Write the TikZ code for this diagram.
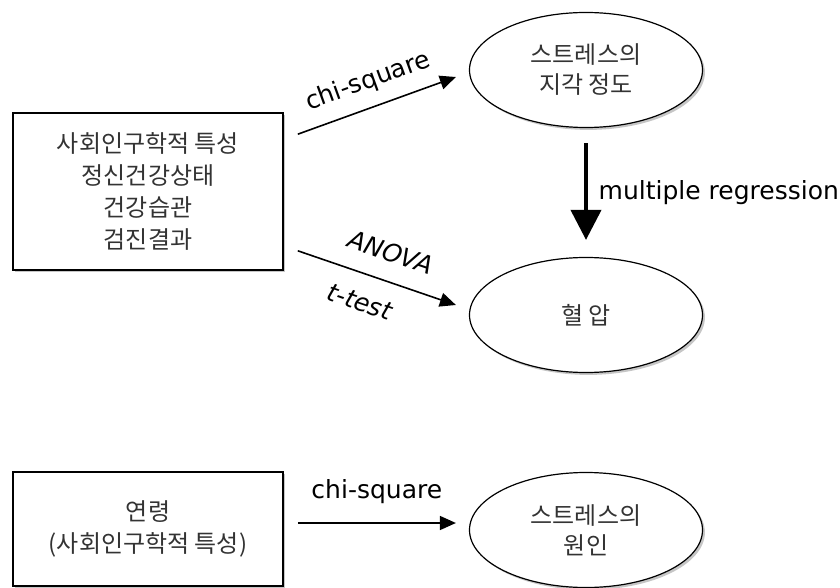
\documentclass[tikz,border=0pt]{standalone}
\usepackage{fontspec}
\setmainfont{DejaVu Sans}
\newfontfamily\kr{Noto Sans CJK KR}
\usepackage{tikz}
\usetikzlibrary{shapes}
\usetikzlibrary{arrows.meta,calc,shadows}
\tikzstyle{sbox}=[draw, line width=0.8pt, fill=white, drop shadow={shadow xshift=1.2pt, shadow yshift=-1.2pt, opacity=0.45}, minimum width=135pt, align=center, font=\kr\fontsize{12}{16}\selectfont, text=black!80]
\tikzstyle{sell}=[draw, ellipse, line width=0.6pt, fill=white, drop shadow={shadow xshift=1.2pt, shadow yshift=-1.2pt, opacity=0.45}, minimum width=116.5pt, minimum height=57.5pt, inner sep=0pt, align=center, font=\kr\fontsize{12}{15}\selectfont, text=black!80]
\tikzstyle{arr}=[line width=0.8pt, -{Triangle[length=8pt,width=7pt]}]
\tikzstyle{bigarr}=[line width=2pt, -{Triangle[length=15pt,width=15pt]}]
\tikzstyle{lbl}=[font=\fontsize{12.5}{15}\selectfont]
\tikzstyle{itlbl}=[font=\fontsize{12.5}{15}\selectfont\itshape, sloped]

\begin{document}
\begin{tikzpicture}[x=0.5pt,y=-0.5pt]
\useasboundingbox (0,0) rectangle (840,588);
\node[sbox, minimum height=78.5pt] (sit) at (148,191.5) {사회인구학적 특성\\정신건강상태\\건강습관\\검진결과};
\node[sell] (per) at (586,70) {스트레스의\\지각 정도};
\node[sell] (bp) at (586,315) {혈 압};
\node[sbox, minimum height=57pt] (age) at (148,529) {연령\\(사회인구학적 특성)};
\node[sell] (cau) at (586,530) {스트레스의\\원인};
\draw[arr] ($(sit.north east)+(14,22)$) -- node[lbl,above=3pt,sloped] {chi-square} ($(per.west)+(-13,7)$);
\draw[bigarr, shorten <=7.5pt, shorten >=8.5pt] (per.south) -- node[lbl,right=2pt] {multiple regression} (bp.north);
\draw[arr] ($(sit.south east)+(14,-20)$) -- node[itlbl,pos=.53,above=6pt] {ANOVA} node[itlbl,pos=.45,below=6pt] {t-test} ($(bp.west)+(-13,-10)$);
\draw[arr] ($(age.east)+(14,-6)$) -- node[lbl,above=6pt] {chi-square} ($(cau.west)+(-13,-7)$);
\end{tikzpicture}
\end{document}
